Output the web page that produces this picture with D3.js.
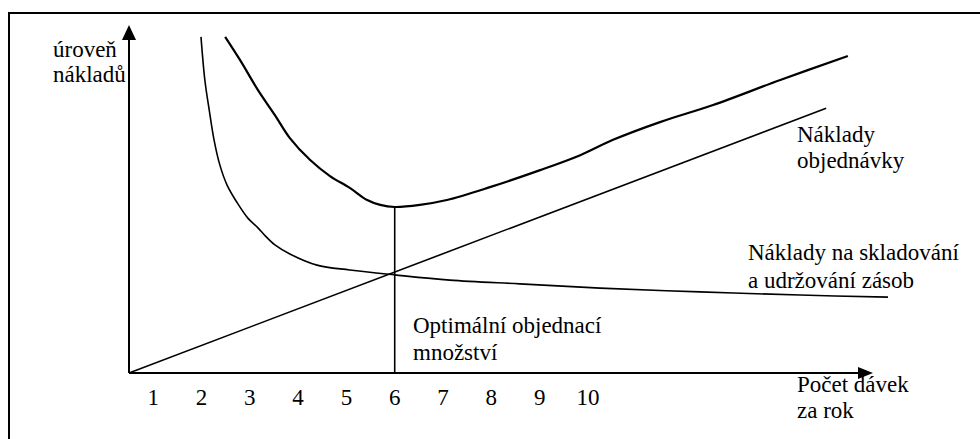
<!DOCTYPE html>
<meta charset="utf-8">
<style type="text/css">
body { margin: 0; background: #fff; }
.curve { fill: none; stroke: #000; stroke-width: 1.6px; }
.total { stroke-width: 2.2px; }
</style>
<body>
<div class="g-chart"></div>
<script src="https://cdnjs.cloudflare.com/ajax/libs/d3/7.8.5/d3.min.js"></script>
<script>

// x axis tick labels (počet dávek)
var xTicks = [1, 2, 3, 4, 5, 6, 7, 8, 9, 10];

// Náklady na skladování a udržování zásob
var storageX = [1.99, 2.07, 2.16, 2.26, 2.38, 2.53, 2.74, 2.96, 3.17, 3.32, 3.52, 3.83, 4.39, 5.07, 6.0, 7.14, 8.59, 10.25, 12.32, 14.39, 16.21];
var storageY = [96.6, 84.2, 75.6, 67.0, 59.8, 54.0, 48.9, 44.5, 41.7, 39.4, 36.8, 34.2, 31.0, 29.6, 28.2, 26.7, 25.6, 24.4, 23.3, 22.4, 21.8];

// celkové náklady
var totalX = [2.49, 2.80, 3.17, 3.52, 3.83, 4.25, 4.66, 5.07, 5.43, 5.70, 6.0, 6.52, 7.08, 7.97, 9.01, 9.84, 10.52, 11.49, 12.59, 13.98, 15.38];
var totalY = [96.6, 89.9, 81.3, 74.1, 67.5, 61.2, 56.6, 53.2, 49.7, 48.3, 47.7, 48.3, 49.7, 53.4, 58.3, 62.6, 67.0, 72.1, 77.0, 84.2, 91.1];

// Náklady objednávky (přímka)
var orderX = [0.5, 14.93];
var orderY = [0, 76.1];

// optimum
var optX = 6;
var optY = 47.7;

var yLabel = ["úroveň", "nákladů"];
var xLabel = ["Počet dávek", "za rok"];
var orderLabel = ["Náklady", "objednávky"];
var storageLabel = ["Náklady na skladování", "a udržování zásob"];
var optLabel = ["Optimální objednací", "množství"];

var width = 980, height = 439;
var serif = "'Liberation Serif', 'Times New Roman', Times, serif";

var svg = d3.select(".g-chart").append("svg")
  .attr("width", width)
  .attr("height", height);

// scales
var x = d3.scaleLinear().domain([0.5, 15.9]).range([129, 873]);
var y = d3.scaleLinear().domain([0, 100]).range([373, 25]);

// frame (only top and left edges are visible)
svg.append("rect")
  .attr("x", 9).attr("y", 13)
  .attr("width", 1000).attr("height", 500)
  .style("fill", "none").style("stroke", "#000").style("stroke-width", 2);

// axes
svg.append("line")
  .attr("x1", x(0.5)).attr("y1", y(0))
  .attr("x2", x(0.5)).attr("y2", y(96))
  .style("stroke", "#000").style("stroke-width", 2);
svg.append("path")
  .attr("d", "M" + x(0.5) + "," + y(100) + "L" + (x(0.5) - 7) + "," + (y(100) + 15) + "L" + (x(0.5) + 7) + "," + (y(100) + 15) + "Z")
  .style("fill", "#000");

svg.append("line")
  .attr("x1", x(0.5)).attr("y1", y(0))
  .attr("x2", x(15.6)).attr("y2", y(0))
  .style("stroke", "#000").style("stroke-width", 2);
svg.append("path")
  .attr("d", "M" + x(15.9) + "," + y(0) + "L" + (x(15.9) - 15) + "," + (y(0) - 6) + "L" + (x(15.9) - 15) + "," + (y(0) + 6) + "Z")
  .style("fill", "#000");

// tick labels
svg.selectAll("text.tick")
  .data(xTicks)
  .enter().append("text")
  .attr("class", "tick")
  .attr("x", function(d) { return x(d); })
  .attr("y", 405)
  .attr("text-anchor", "middle")
  .style("font-family", serif)
  .style("font-size", "23px")
  .text(function(d) { return d; });

var line = d3.line()
  .x(function(d) { return x(d[0]); })
  .y(function(d) { return y(d[1]); })
  .curve(d3.curveCatmullRom.alpha(0.5));

svg.append("path")
  .attr("class", "curve")
  .attr("d", line(d3.zip(storageX, storageY)));

svg.append("path")
  .attr("class", "curve total")
  .attr("d", line(d3.zip(totalX, totalY)));

svg.append("path")
  .attr("class", "curve")
  .attr("d", d3.line().x(function(d) { return x(d[0]); }).y(function(d) { return y(d[1]); })(d3.zip(orderX, orderY)));

// optimum line
svg.append("line")
  .attr("x1", x(optX)).attr("y1", y(0))
  .attr("x2", x(optX)).attr("y2", y(optY) - 1)
  .style("stroke", "#000").style("stroke-width", 1.6);

// labels
function label(lines, lx, ly, dy) {
  var t = svg.append("text").attr("x", lx).attr("y", ly)
    .style("font-family", serif)
    .style("font-size", "23px");
  lines.forEach(function(s, i) {
    t.append("tspan").attr("x", lx).attr("y", ly + i * dy).text(s);
  });
}
label(yLabel, 53, 57, 25);
label(xLabel, 797, 392, 26);
label(orderLabel, 797, 142, 26);
label(storageLabel, 748, 260, 28);
label(optLabel, 413, 333, 27);

</script>
</body>
